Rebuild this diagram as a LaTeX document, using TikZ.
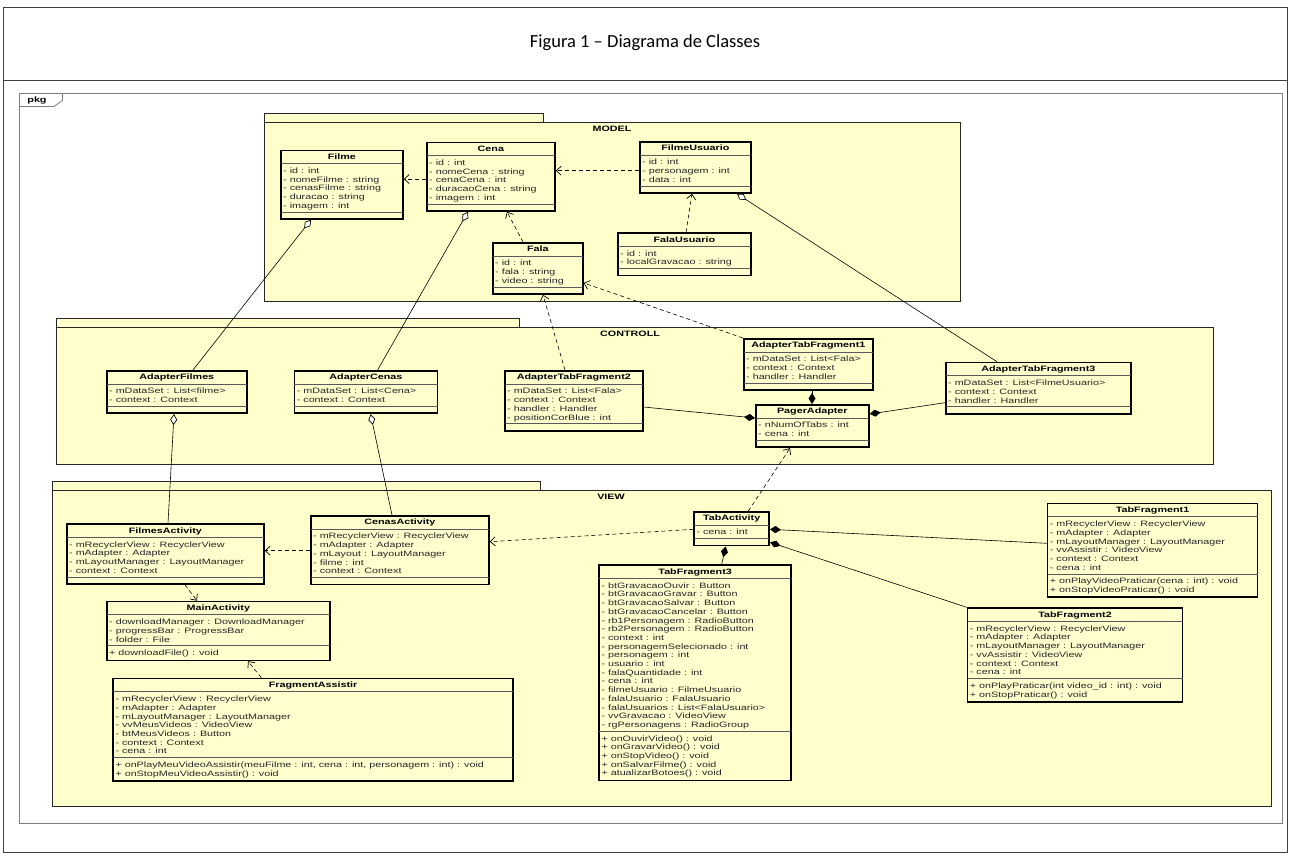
\documentclass[tikz,border=0pt]{standalone}
\usepackage{fontspec}
\setmainfont{Liberation Sans}
\newfontfamily\umlf[FakeStretch=1.38]{Liberation Sans}
\newfontfamily\titlef{Carlito}
\usetikzlibrary{calc,arrows.meta}
\definecolor{pkgfill}{RGB}{255,255,204}
\definecolor{clsfill}{RGB}{255,255,206}

\tikzset{
  clsbox/.style={draw=black, line width=1.7pt, fill=clsfill, inner sep=0pt, rectangle},
  sepline/.style={draw=black!65, line width=0.7pt},
  clstitle/.style={font=\umlf\bfseries\fontsize{7.8}{8.7}\selectfont, inner sep=0pt, anchor=base},
  clstext/.style={font=\umlf\fontsize{7.8}{8.7}\selectfont, inner sep=0pt, align=left, anchor=north west, text=black!85},
  pkgbody/.style={draw=black!85, line width=1.3pt, fill=pkgfill, inner sep=0pt, rectangle, anchor=north west},
  pkglabel/.style={font=\umlf\bfseries\fontsize{7.8}{8.7}\selectfont, inner sep=0pt, anchor=base},
  outerframe/.style={draw=black!75, line width=0.9pt},
  pkgframe/.style={draw=black!50, line width=0.8pt},
  dep/.style={draw=black, line width=0.6pt, dash pattern=on 4pt off 3pt, -{Straight Barb[length=5pt,width=9pt,line width=0.7pt]}},
  aggr/.style={draw=black, line width=0.6pt, -{Diamond[length=11pt,width=7pt,fill=white,line width=0.7pt]}},
  comp/.style={draw=black, line width=0.6pt, -{Diamond[length=11pt,width=7pt,fill=black]}},
}

% #1 name, #2 x, #3 y (top), #4 width, #5 n attrs, #6 n ops, #7 title, #8 attrs, #9 ops
\newcommand{\umlclass}[9]{%
  \pgfmathsetmacro{\hA}{#5*8.7+5}%
  \pgfmathsetmacro{\hO}{ifthenelse(#6==0,6,#6*8.7+5)}%
  \pgfmathsetmacro{\hT}{14+\hA+\hO}%
  \pgfmathsetmacro{\yS}{14+\hA}%
  \node[clsbox, anchor=north west, minimum width=#4pt, minimum height=\hT pt] (#1) at (#2,#3) {};
  \draw[sepline] ($(#1.north west)+(0.8,14)$) -- ($(#1.north east)+(-0.8,14)$);
  \draw[sepline] ($(#1.north west)+(0.8,\yS)$) -- ($(#1.north east)+(-0.8,\yS)$);
  \node[clstitle] (#1-name) at ($(#1.north)+(0,9.8)$) {#7};
  \node[clstext] (#1-attr) at ($(#1.north west)+(3,16.7)$) {\rule{0pt}{7pt}#8};
  \ifnum#6>0 \node[clstext] (#1-ops) at ($(#1.north west)+(3,\yS+2.7)$) {\rule{0pt}{7pt}#9};\fi
}

\begin{document}
\begin{tikzpicture}[x=1pt,y=-1pt]
\useasboundingbox (0,0) rectangle (1290,855);
\fill[white] (0,0) rectangle (1290,855);

% outer frame and title
\draw[outerframe] (3,7.5) rectangle (1287,852);
\draw[outerframe] (3,80) -- (1287,80);
\node[font=\titlef\fontsize{18.5}{22}\selectfont, inner sep=0pt, anchor=base] (title) at (645,47) {Figura 1 – Diagrama de Classes};

% pkg frame
\draw[pkgframe] (19.5,93) rectangle (1282,823);
\draw[pkgframe] (19.5,106.5) -- (54,106.5) -- (62.5,100.5) -- (62.5,93);
\node[pkglabel] (pkg) at (37,102.5) {pkg};

% packages
\node[pkgbody, minimum width=279pt, minimum height=9pt] (modeltab) at (264,112.7) {};
\node[pkgbody, minimum width=696pt, minimum height=179.3pt] (model) at (264,121.7) {};
\node[pkglabel] (modellabel) at (612,131.8) {MODEL};

\node[pkgbody, minimum width=463pt, minimum height=8.7pt] (controlltab) at (56,318) {};
\node[pkgbody, minimum width=1157pt, minimum height=137.3pt] (controll) at (56,326.7) {};
\node[pkglabel] (controlllabel) at (630,336.8) {CONTROLL};

\node[pkgbody, minimum width=488pt, minimum height=9pt] (viewtab) at (52,481) {};
\node[pkgbody, minimum width=1218.5pt, minimum height=315.7pt] (view) at (52,490) {};
\node[pkglabel] (viewlabel) at (611,499.8) {VIEW};

% MODEL classes
\umlclass{filme}{280}{149.5}{122}{5}{0}{Filme}{- id : int\\- nomeFilme : string\\- cenasFilme : string\\- duracao : string\\- imagem : int}{}
\umlclass{cena}{426}{141.5}{128}{5}{0}{Cena}{- id : int\\- nomeCena : string\\- cenaCena : int\\- duracaoCena : string\\- imagem : int}{}
\umlclass{filmeusuario}{639}{141}{111}{3}{0}{FilmeUsuario}{- id : int\\- personagem : int\\- data : int}{}
\umlclass{falausuario}{617}{232.3}{133}{2}{0}{FalaUsuario}{- id : int\\- localGravacao : string}{}
\umlclass{fala}{492}{242}{90}{3}{0}{Fala}{- id : int\\- fala : string\\- video : string}{}

% CONTROLL classes
\umlclass{adapterfilmes}{106}{370}{140}{2}{0}{AdapterFilmes}{- mDataSet : List<filme>\\- context : Context}{}
\umlclass{adaptercenas}{293.6}{370}{143}{2}{0}{AdapterCenas}{- mDataSet : List<Cena>\\- context : Context}{}
\umlclass{atf2}{504}{370}{138}{4}{0}{AdapterTabFragment2}{- mDataSet : List<Fala>\\- context : Context\\- handler : Handler\\- positionCorBlue : int}{}
\umlclass{atf1}{743}{338}{129}{3}{0}{AdapterTabFragment1}{- mDataSet : List<Fala>\\- context : Context\\- handler : Handler}{}
\umlclass{pager}{755}{404}{113}{2}{0}{PagerAdapter}{- nNumOfTabs : int\\- cena : int}{}
\umlclass{atf3}{945}{361.7}{185}{3}{0}{AdapterTabFragment3}{- mDataSet : List<FilmeUsuario>\\- context : Context\\- handler : Handler}{}

% VIEW classes
\umlclass{filmesactivity}{66}{523.3}{197}{4}{0}{FilmesActivity}{- mRecyclerView : RecyclerView\\- mAdapter : Adapter\\- mLayoutManager : LayoutManager\\- context : Context}{}
\umlclass{cenasactivity}{310}{515}{178}{5}{0}{CenasActivity}{- mRecyclerView : RecyclerView\\- mAdapter : Adapter\\- mLayout : LayoutManager\\- filme : int\\- context : Context}{}
\umlclass{mainactivity}{106}{600.7}{223}{3}{1}{MainActivity}{- downloadManager : DownloadManager\\- progressBar : ProgressBar\\- folder : File}{+ downloadFile() : void}
\umlclass{fragmentassistir}{112.3}{677.7}{400}{7}{2}{FragmentAssistir}{- mRecyclerView : RecyclerView\\- mAdapter : Adapter\\- mLayoutManager : LayoutManager\\- vvMeusVideos : VideoView\\- btMeusVideos : Button\\- context : Context\\- cena : int}{+ onPlayMeuVideoAssistir(meuFilme : int, cena : int, personagem : int) : void\\+ onStopMeuVideoAssistir() : void}
\umlclass{tabactivity}{693.3}{511}{75}{1}{0}{TabActivity}{- cena : int}{}
\umlclass{tabfragment3}{598.3}{564.3}{192}{17}{5}{TabFragment3}{- btGravacaoOuvir : Button\\- btGravacaoGravar : Button\\- btGravacaoSalvar : Button\\- btGravacaoCancelar : Button\\- rb1Personagem : RadioButton\\- rb2Personagem : RadioButton\\- context : int\\- personagemSelecionado : int\\- personagem : int\\- usuario : int\\- falaQuantidade : int\\- cena : int\\- filmeUsuario : FilmeUsuario\\- falaUsuario : FalaUsuario\\- falaUsuarios : List<FalaUsuario>\\- vvGravacao : VideoView\\- rgPersonagens : RadioGroup}{+ onOuvirVideo() : void\\+ onGravarVideo() : void\\+ onStopVideo() : void\\+ onSalvarFilme() : void\\+ atualizarBotoes() : void}
\umlclass{tabfragment1}{1046.7}{502.7}{210}{6}{2}{TabFragment1}{- mRecyclerView : RecyclerView\\- mAdapter : Adapter\\- mLayoutManager : LayoutManager\\- vvAssistir : VideoView\\- context : Context\\- cena : int}{+ onPlayVideoPraticar(cena : int) : void\\+ onStopVideoPraticar() : void}
\umlclass{tabfragment2}{966.7}{607.3}{215}{6}{2}{TabFragment2}{- mRecyclerView : RecyclerView\\- mAdapter : Adapter\\- mLayoutManager : LayoutManager\\- vvAssistir : VideoView\\- context : Context\\- cena : int}{+ onPlayPraticar(int video\_id : int) : void\\+ onStopPraticar() : void}

% dependencies (dashed, open arrow)
\draw[dep] ($(cena.north west)+(0,37.5)$) -- ($(filme.north east)+(0,29.5)$);
\draw[dep] ($(filmeusuario.north west)+(0,29.7)$) -- ($(cena.north east)+(0,29.2)$);
\draw[dep] ($(falausuario.north west)+(69,0)$) -- ($(filmeusuario.south west)+(53,0)$);
\draw[dep] ($(fala.north west)+(31,0)$) -- ($(cena.south west)+(81,0)$);
\draw[dep] ($(atf2.north west)+(61,0)$) -- ($(fala.south west)+(51,0)$);
\draw[dep] (atf1.north west) -- ($(fala.north east)+(0,41)$);
\draw[dep] ($(tabactivity.north west)+(55,0)$) -- ($(pager.south west)+(35,0)$);
\draw[dep] ($(tabactivity.north west)+(0,18.3)$) -- ($(cenasactivity.north east)+(0,26.7)$);
\draw[dep] ($(cenasactivity.north west)+(0,35.7)$) -- ($(filmesactivity.north east)+(0,27.4)$);
\draw[dep] ($(filmesactivity.south west)+(119,0)$) -- ($(mainactivity.north west)+(91,0)$);
\draw[dep] ($(fragmentassistir.north west)+(149,0)$) -- ($(mainactivity.south west)+(142,0)$);

% aggregations (hollow diamond)
\draw[aggr] ($(adapterfilmes.north west)+(87,0)$) -- ($(filme.south west)+(31,0)$);
\draw[aggr] ($(adaptercenas.north west)+(84,0)$) -- ($(cena.south west)+(42,0)$);
\draw[aggr] ($(atf3.north west)+(52,0)$) -- ($(filmeusuario.south west)+(98,0)$);
\draw[aggr] ($(filmesactivity.north west)+(102,0)$) -- ($(adapterfilmes.south west)+(68,0)$);
\draw[aggr] ($(cenasactivity.north west)+(82,0)$) -- ($(adaptercenas.south west)+(77,0)$);

% compositions (filled diamond)
\draw[comp] ($(atf1.south west)+(69,0)$) -- ($(pager.north west)+(57,0)$);
\draw[comp] ($(atf2.north east)+(0,37)$) -- ($(pager.north west)+(0,14)$);
\draw[comp] ($(atf3.north west)+(0,41)$) -- ($(pager.north east)+(0,10)$);
\draw[comp] ($(tabfragment3.north west)+(123.4,0)$) -- ($(tabactivity.south west)+(32.4,0)$);
\draw[comp] ($(tabfragment1.north west)+(0,40.6)$) -- ($(tabactivity.north east)+(0,18.3)$);
\draw[comp] (tabfragment2.north west) -- ($(tabactivity.north east)+(0,31.3)$);
\end{tikzpicture}
\end{document}
